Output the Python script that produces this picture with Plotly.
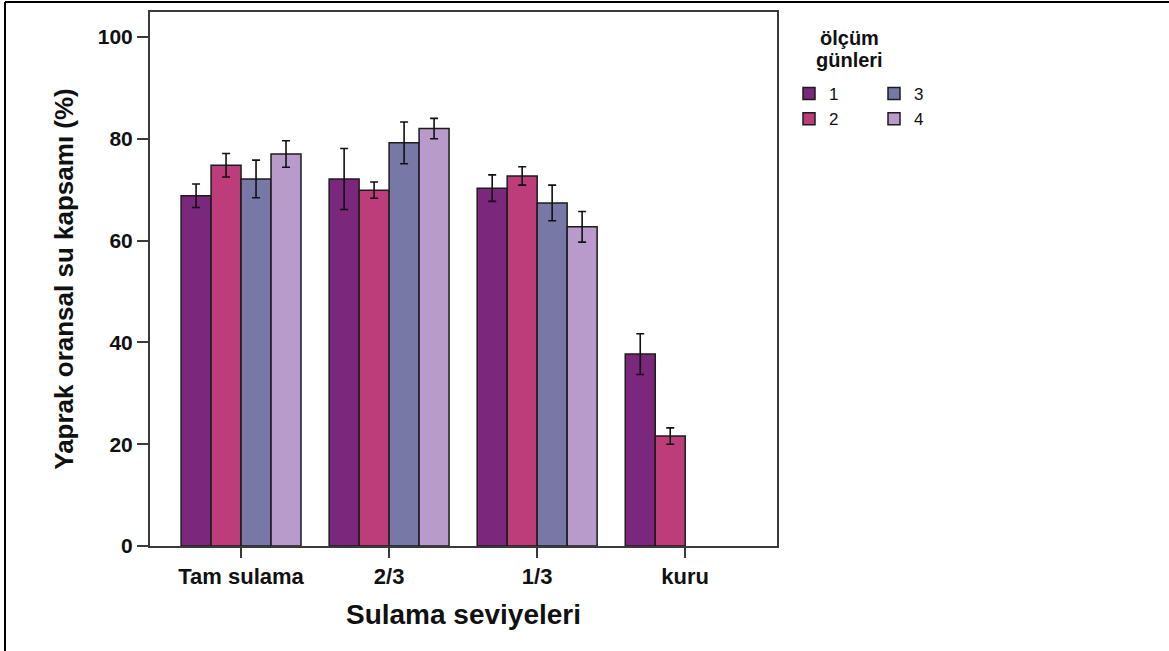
import plotly.graph_objects as go

# Irrigation levels (x categories) and measurement days (series)
categories = ["Tam sulama", "2/3", "1/3", "kuru"]
days = ["1", "2", "3", "4"]

# Mean relative leaf water content (%) per day, one list per measurement day
day1_means = [68.8, 72.1, 70.3, 37.7]
day2_means = [74.8, 69.9, 72.7, 21.6]
day3_means = [72.1, 79.2, 67.4, None]
day4_means = [77.0, 82.0, 62.7, None]

# Error bar half-widths
day1_err = [2.3, 6.0, 2.6, 4.0]
day2_err = [2.3, 1.6, 1.8, 1.6]
day3_err = [3.7, 4.1, 3.5, None]
day4_err = [2.6, 2.0, 3.0, None]

legend_title_lines = ["ölçüm", "günleri"]

colors = ["#7b277b", "#bd3d7b", "#7878a7", "#b99bcb"]

means = [day1_means, day2_means, day3_means, day4_means]
errs = [day1_err, day2_err, day3_err, day4_err]

W, H = 1169, 651
ML, MR, MT, MB = 150, 392, 12, 105
PW, PH = W - ML - MR, H - MT - MB


def px_x(px):
    return (px - ML) / PW


def px_y(py):
    return (H - MB - py) / PH


FONT = "Liberation Sans, Arial, sans-serif"
INK = "#111111"

fig = go.Figure()
for i, (d, m, e, c) in enumerate(zip(days, means, errs, colors)):
    fig.add_trace(go.Bar(
        name=d,
        x=categories,
        y=m,
        marker=dict(color=c, line=dict(color="#1c1c1c", width=1.5)),
        error_y=dict(type="data", array=e, visible=True,
                     color=INK, thickness=1.6, width=4),
        legend="legend" if i < 2 else "legend2",
    ))

axis_line = dict(showline=True, linecolor="#3a3a3a", linewidth=2, mirror=True)

# legend title, one annotation per line
title_ann = [
    dict(text=f"<b>{t}</b>", x=px_x(849), y=px_y(yc), xref="paper", yref="paper",
         xanchor="center", yanchor="middle", showarrow=False,
         font=dict(size=20, family=FONT, color=INK))
    for t, yc in zip(legend_title_lines, [38, 60])
]

fig.update_layout(
    width=W, height=H,
    margin=dict(l=ML, r=MR, t=MT, b=MB, autoexpand=False),
    paper_bgcolor="white",
    plot_bgcolor="white",
    barmode="group",
    bargap=0.19,
    bargroupgap=0,
    font=dict(family=FONT, color=INK),
    xaxis=dict(
        **axis_line,
        range=[-0.615, 3.62],
        ticks="outside", ticklen=10, tickwidth=1.5, tickcolor="#3a3a3a",
        tickfont=dict(size=22, family=FONT, weight="bold", color=INK),
        title=dict(text="Sulama seviyeleri", standoff=16,
                   font=dict(size=28, family=FONT, weight="bold", color=INK)),
        showgrid=False, zeroline=False,
    ),
    yaxis=dict(
        **axis_line,
        range=[0, 104.9],
        tickvals=[0, 20, 40, 60, 80, 100],
        ticks="outside", ticklen=11, tickwidth=1.5, tickcolor="#3a3a3a",
        tickfont=dict(size=21, family=FONT, weight="bold", color=INK),
        title=dict(text="Yaprak oransal su kapsamı (%)", standoff=17,
                   font=dict(size=26, family=FONT, weight="bold", color=INK)),
        showgrid=False, zeroline=False,
    ),
    legend=dict(
        x=px_x(789), y=px_y(76), xanchor="left", yanchor="top",
        font=dict(size=17, family=FONT, color=INK),
        bgcolor="rgba(0,0,0,0)", tracegroupgap=0,
    ),
    legend2=dict(
        x=px_x(874), y=px_y(76), xanchor="left", yanchor="top",
        font=dict(size=17, family=FONT, color=INK),
        bgcolor="rgba(0,0,0,0)", tracegroupgap=0,
    ),
    annotations=title_ann,
    shapes=[
        # outer frame: left and top edges
        dict(type="line", xref="paper", yref="paper",
             x0=px_x(5), x1=px_x(5), y0=px_y(2), y1=px_y(H),
             line=dict(color="black", width=2)),
        dict(type="line", xref="paper", yref="paper",
             x0=px_x(5), x1=px_x(W), y0=px_y(2), y1=px_y(2),
             line=dict(color="black", width=2)),
    ],
)

fig.write_html("out.html")
